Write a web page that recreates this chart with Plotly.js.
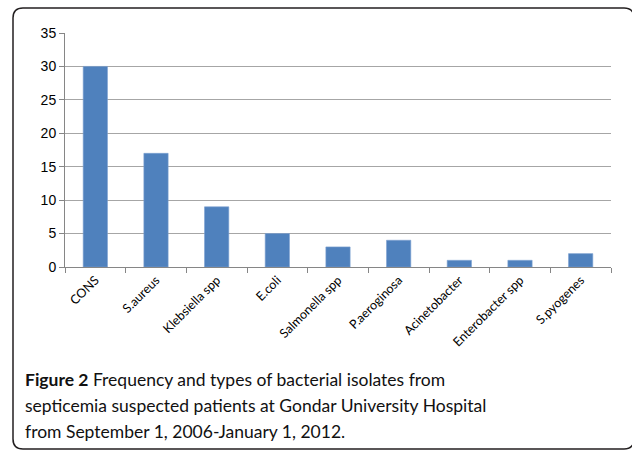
<!DOCTYPE html>
<html>
<head>
<meta charset="utf-8">
<script src="https://cdn.plot.ly/plotly-3.0.1.min.js"></script>
<style>html,body{margin:0;padding:0;background:#fff;}#chart{width:632px;height:450px;}</style>
</head>
<body>
<div id="chart"></div>
<script>
const categories = ["CONS","S.aureus","Klebsiella spp","E.coli","Salmonella spp","P.aeroginosa","Acinetobacter","Enterobacter spp","S.pyogenes"];
const counts = [30,17,9,5,3,4,1,1,2];
const yTicks = [0,5,10,15,20,25,30,35];
const captionLines = [
  "<b>Figure 2</b> Frequency and types of bacterial isolates from",
  "septicemia suspected patients at Gondar University Hospital",
  "from September 1, 2006-January 1, 2012."
];

const W = 632, H = 450;
const mL = 65, mR = 21, mT = 33, mB = 183;
const pw = W - mL - mR, ph = H - mT - mB;
const px = x => (x - mL) / pw;
const py = y => (H - mB - y) / ph;

const x0 = px(13), x1 = px(634), y0 = py(8), y1 = py(449);
const rx = 10 / pw, ry = 10 / ph;
const borderPath = `M ${x0} ${y0 - ry} Q ${x0} ${y0} ${x0 + rx} ${y0} L ${x1 - rx} ${y0} Q ${x1} ${y0} ${x1} ${y0 - ry} L ${x1} ${y1 + ry} Q ${x1} ${y1} ${x1 - rx} ${y1} L ${x0 + rx} ${y1} Q ${x0} ${y1} ${x0} ${y1 + ry} Z`;

const annotations = captionLines.map((t, i) => ({
  text: t, xref: 'paper', yref: 'paper',
  x: px(23), y: py(379 + i * 26), xanchor: 'left', yanchor: 'middle',
  showarrow: false, align: 'left',
  font: {family: 'Lato, "Open Sans", sans-serif', size: 17.5, color: '#111'}
}));

const data = [{
  type: 'bar', x: categories, y: counts,
  marker: {color: '#4f81bd', line: {color: '#7a9fd0', width: 0.6}},
  hoverinfo: 'none'
}];

const layout = {
  width: W, height: H,
  margin: {l: mL, r: mR, t: mT, b: mB, pad: 0},
  paper_bgcolor: '#fff', plot_bgcolor: '#fff',
  showlegend: false, bargap: 0.6,
  font: {family: '"Liberation Sans", Arial, sans-serif', size: 12, color: '#000'},
  xaxis: {
    type: 'category', tickangle: -45, ticks: 'outside', ticklen: 5, tickcolor: '#868686',
    showline: true, linecolor: '#868686', linewidth: 1, showgrid: false,
    tickson: 'boundaries', tickfont: {family: 'Lato, "Open Sans", sans-serif', size: 12.5}
  },
  yaxis: {
    range: [0, 35], tickvals: yTicks, ticks: 'outside', ticklen: 5, tickcolor: '#868686',
    showline: true, linecolor: '#868686', linewidth: 1,
    showgrid: true, gridcolor: '#a6a6a6', gridwidth: 1, zeroline: false,
    tickfont: {size: 14}
  },
  shapes: [{type: 'path', xref: 'paper', yref: 'paper', path: borderPath,
            line: {color: '#231f20', width: 1.5}, fillcolor: 'rgba(0,0,0,0)', layer: 'below'}],
  annotations: annotations
};

Plotly.newPlot('chart', data, layout, {displayModeBar: false, staticPlot: true});
</script>
</body>
</html>
